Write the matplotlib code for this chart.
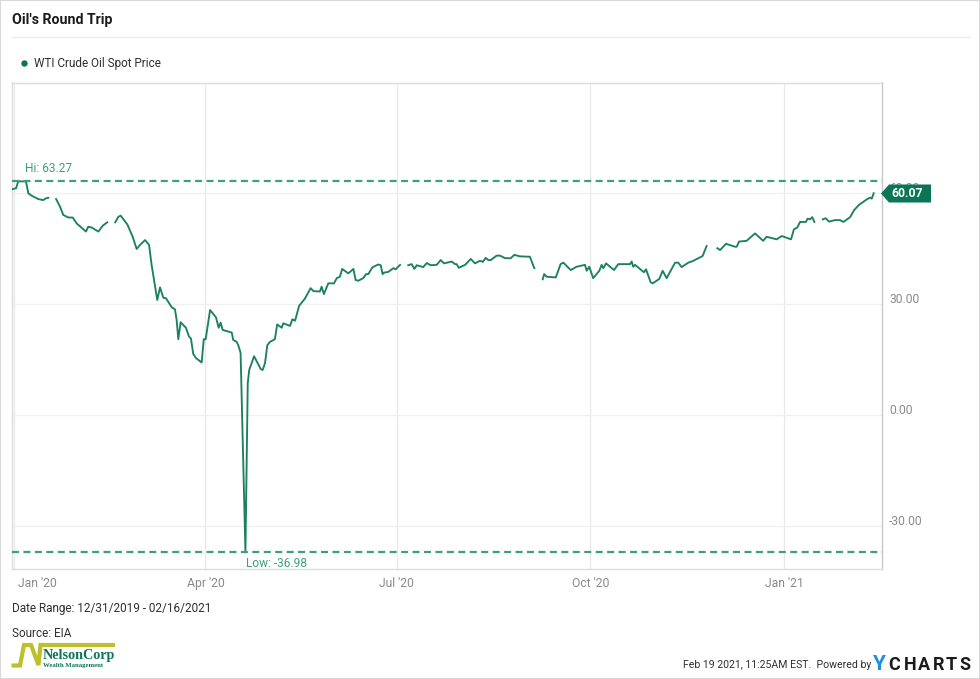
import numpy as np
import matplotlib
matplotlib.use("Agg")
import matplotlib.pyplot as plt
from matplotlib.patches import Polygon, Rectangle
from matplotlib.lines import Line2D
from matplotlib.transforms import ScaledTranslation

plt.rcParams['font.family'] = ['Roboto', 'DejaVu Sans']

nan = float('nan')
# days since 2020-01-01; nan marks a gap in the published series
days = [-0.6, 1, 2, 5.7, 6.8, 8.4, 11.5, 13.9, 15.2, 16.3, nan,
        20, 21.9, 23.4, 25.8, 27.9, 29.8, 34.2, 35.3, 36.9, 40.1, 42.2, 44.3, nan,
        48.1, 49.6, 50.7, 53.9, 56.4, 58.3, 59.9, 62.3, 64.2, 65.4, 68.1, 69.4, 71, 72.2, 75, 76.5,
        77.3, 78.1, 79.2, 81.7, 83.2, 84.1, 85.2, 86.5, 89.2, 90.2, 91.1, 93.2, 96, 97.3, 98.2, 99.2,
        103.5, 104.2, 105.8, 106.6, 107.7, 110, 111.1, 111.8, 114.1, 117.3, 118.2, 119.3, 120.4,
        121.7, 124, 125.1, 127.2, 128, 131.2, 132.3, 133.6, 135.5, 138.3, 141, 142.3, 145.4, 146.2,
        147.3, 149.4, 152.1, 153.4, 154.9, 156, 158.9, 161.3, 162.4, 163.6, 166, 167.3, 168.4, 170.3,
        173.1, 174.3, 175.2, 175.9, 177.9, 180.3, 181.4, 183.5, nan,
        187.4, 189, 190.3, 191.4, 194.5, 196.2, 198, 200.9, 202.8, 204.4, 208, 209.6, 210.4, 211.4,
        214.4, 217.1, 219.1, 221.5, 222.8, 224.2, 225.4, 226.6, 229.4, 231, 233.4, 236.1, 237.8,
        240.5, 245.2, 247.3, nan,
        251.3, 252, 253.2, 257.5, 259.8, 261.1, 264.6, 267.4, 271.4, 272.2, 273.4, 275.3, 278.2,
        279.3, 280.1, 281.4, 285.2, 287.2, 292.8, 293.6, 294.3, 295.2, 299.4, 300.4, 302.6, 303.6,
        306.7, 308.3, 310.2, 314.2, 315.7, 317.3, 320.5, 322.9, 327.3, 329.2, nan,
        334.3, 335.6, 338.4, 342.7, 343.5, 344.6, 348.2, 352.2, 356.1, 357.7, 362.5, 364.9, 369.3,
        370.7, 372.3, 373.6, 376.4, 377.2, 378.3, 379.4, 380.4, nan,
        384.4, 385.8, 387.4, 390.2, 392.6, 394.2, 397.4, 399.3, 401.4, 405.3, 406.9, 407.7, 408.6]
prices = [61.2, 61.4, 63.27, 63.27, 60.05, 59.4, 58.5, 58.2, 58.7, 58.8, nan,
          58.5, 56.4, 54.2, 53.5, 53.5, 51.9, 49.7, 51.0, 50.8, 49.7, 51.3, 52.2, nan,
          52.2, 53.7, 54.0, 51.6, 48.3, 45, 46.1, 47.4, 46.1, 40.7, 31.2, 34.6, 31.8, 31.7, 29.2, 28.7,
          25.8, 20.6, 25.2, 23.7, 21.3, 20.8, 16.6, 15.5, 14.3, 20.6, 20.6, 28.5, 26.5, 23.7, 25.1, 23.1,
          22.4, 20.4, 19.9, 19.0, 16.9, -36.98, 8.7, 12.3, 16.0, 12.5, 12.3, 14.1, 19.0,
          19.9, 20.6, 24.6, 23.7, 24.9, 24.2, 26.0, 25.6, 29.6, 31.6, 34.4, 33.6, 33.5, 34.8,
          32.8, 35.7, 35.7, 37.1, 37.5, 39.6, 38.4, 39.6, 36.6, 36.4, 37.1, 38.2, 38.2, 40.0,
          40.8, 40.6, 38.2, 38.6, 38.8, 39.8, 39.5, 40.7, nan,
          40.6, 40.9, 39.6, 40.6, 40.1, 41.2, 40.6, 40.7, 42.0, 41.1, 41.6, 40.9, 40.9, 39.9,
          40.7, 42.3, 41.1, 41.8, 41.5, 42.6, 42.0, 42.0, 43.2, 43.2, 42.5, 42.5, 43.4,
          43.0, 42.9, 39.8, nan,
          36.8, 38.2, 37.5, 37.3, 40.9, 41.3, 39.3, 40.2, 40.7, 39.1, 40.2, 37.1, 39.1,
          40.7, 39.8, 41.1, 39.3, 40.9, 40.9, 41.6, 40.2, 40.7, 38.7, 39.5, 36.0, 35.7,
          36.9, 39.1, 37.1, 41.3, 41.3, 40.1, 41.3, 41.8, 43.1, 45.8, nan,
          45.2, 44.7, 46.4, 45.6, 45.6, 47.0, 47.2, 49.2, 47.2, 48.3, 47.6, 48.5, 47.6,
          50.3, 50.8, 52.3, 52.3, 53.2, 53.0, 53.6, 52.3, nan,
          53.0, 53.3, 52.4, 52.8, 52.8, 52.3, 53.6, 55.5, 56.8, 58.4, 58.9, 58.6, 60.07]
hi_value = 63.27
low_value = -36.98
last_value = 60.07
x_tick_days = [0, 91, 182, 274, 366]
x_tick_labels = ["Jan '20", "Apr '20", "Jul '20", "Oct '20", "Jan '21"]
y_ticks = [60, 30, 0, -30]
y_tick_labels = ["60.00", "30.00", "0.00", "-30.00"]

W, H = 980, 679
GREEN = "#0a7557"
LINE = "#1c8061"
DASH = "#3c9f80"
GRID = "#f0f0f0"
FRAME = "#dcdcdc"
TICK = "#8a8a8a"
TEXT = "#2f2f2f"

fig = plt.figure(figsize=(W / 100, H / 100), dpi=100, facecolor="white")
L, R, T, B = 12, 882.3, 82.5, 569.3
ax = fig.add_axes([L / W, 1 - B / H, (R - L) / W, (B - T) / H])
ax.set_xlim(-0.95, 412.7)
ax.set_ylim(-41.6, 90)
ax.set_axisbelow(True)
ax.grid(True, color=GRID, lw=1.0)
ax.xaxis.grid(True, color="#e8e8e8", lw=0.9)
for side, spine in ax.spines.items():
    spine.set_color("#c9c9c9" if side == "right" else FRAME)
    spine.set_linewidth(1.0)

ax.set_xticks(x_tick_days)
ax.set_xticklabels(x_tick_labels)
ax.set_yticks(y_ticks)
ax.set_yticklabels(y_tick_labels)
ax.yaxis.tick_right()
ax.tick_params(axis='both', length=0, labelcolor=TICK, labelsize=8.7)
ax.tick_params(axis='x', pad=5.3)
ax.tick_params(axis='y', pad=5)
first = ax.get_xticklabels()[0]
first.set_ha('left')
first.set_transform(first.get_transform() + ScaledTranslation(4 / 100, 0, fig.dpi_scale_trans))
for lab in ax.get_yticklabels():
    lab.set_transform(lab.get_transform() + ScaledTranslation(0, 6 / 100, fig.dpi_scale_trans))

ax.plot(days, prices, color=LINE, lw=1.35, solid_joinstyle='round', zorder=3)
for v in (hi_value, low_value):
    ax.axhline(v, color=DASH, lw=1.6, dashes=(3.15, 2.0), dash_capstyle='butt', zorder=4)
ax.text(5.3, hi_value + 1.7, f"Hi: {hi_value:.2f}", color=DASH, fontsize=8.6, ha='left', va='bottom')
ax.text(110.3, low_value - 1.2, f"Low: {low_value:.2f}", color=DASH, fontsize=8.6, ha='left', va='top')

# page furniture, positioned in pixels
ov = fig.add_axes([0, 0, 1, 1], facecolor='none', zorder=5)
ov.set_xlim(0, W)
ov.set_ylim(H, 0)
ov.axis('off')
ov.add_patch(Rectangle((0, 0), W, H, fill=False, ec="#d8d8d8", lw=1.5))
ov.add_line(Line2D([12, 970], [37, 37], color="#ececec", lw=1))
ov.text(12, 20, "Oil's Round Trip", fontsize=10.2, fontweight='bold', color="#1a1a1a", va='center', ha='left')
ov.plot([24], [63], 'o', color=GREEN, ms=4.6, mew=0)
ov.text(34, 63, "WTI Crude Oil Spot Price", fontsize=8.5, color=TEXT, va='center', ha='left')
ov.text(12, 608.5, "Date Range: 12/31/2019 - 02/16/2021", fontsize=8.5, color=TEXT, va='center', ha='left')
ov.text(12, 633.5, "Source: EIA", fontsize=8.5, color=TEXT, va='center', ha='left')
ov.text(871, 665, "Feb 19 2021, 11:25AM EST.  Powered by", fontsize=7.6, color=TEXT, va='center', ha='right')

# price flag
ov.add_patch(Polygon([(881, 193.5), (889, 184.5), (931, 184.5), (931, 202.5), (889, 202.5)],
                     closed=True, fc=GREEN, ec='none'))
ov.text(891, 193.5, f"{last_value:.2f}", color="white", fontsize=8.7, fontweight='bold', va='center', ha='left')

# NelsonCorp logo
ov.plot([11.5, 20, 24, 31, 38.5, 40.5, 115], [665.5, 665.5, 645, 645, 665, 645, 645],
        color="#bdbf2b", lw=3, solid_joinstyle='miter', solid_capstyle='butt')
ov.text(43, 655.5, "NelsonCorp", family="Liberation Serif", fontweight='bold', fontsize=10.2,
        color=GREEN, va='center', ha='left')
ov.text(43, 665.5, "Wealth Management", family="Liberation Serif", fontweight='bold', fontsize=4.9,
        color=GREEN, va='center', ha='left')

# YCHARTS logo
ov.text(872.5, 664.5, "Y", fontsize=15, fontweight='bold', color="#1c8fe3", va='center', ha='left')
for ch, x in zip("CHARTS", [888, 904, 918, 933, 946, 959]):
    ov.text(x, 664.5, ch, fontsize=13, fontweight='bold', color="#1b1b1b", va='center', ha='left')

fig.savefig("out.png", dpi=100, facecolor="white")
